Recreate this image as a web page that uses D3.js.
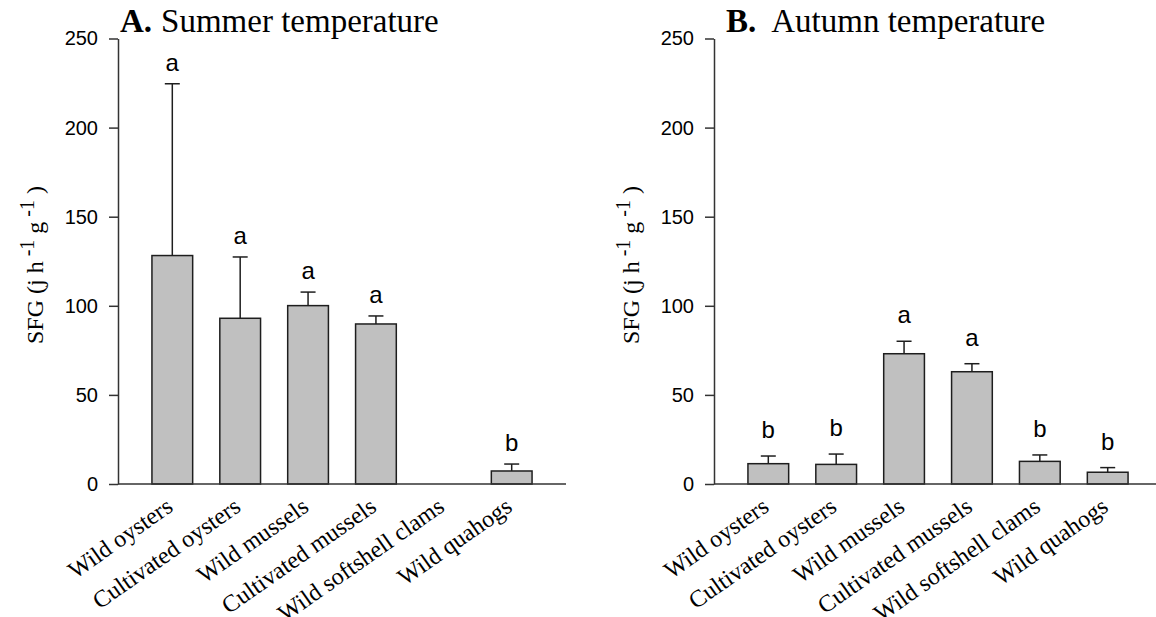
<!DOCTYPE html>
<html>
<head>
<meta charset="utf-8">
<script src="https://cdn.jsdelivr.net/npm/d3@7"></script>
<style>
  body { margin: 0; background: #fff; }
  .tick text { font-family: "Liberation Sans", Arial, sans-serif; font-size: 20px; fill: #000; }
  .cat { font-family: "Liberation Serif", "Times New Roman", serif; font-size: 24px; }
  .ytitle { font-family: "Liberation Serif", "Times New Roman", serif; font-size: 24px; }
  .title { font-family: "Liberation Serif", "Times New Roman", serif; font-size: 33px; }
  .letter { font-family: "Liberation Sans", Arial, sans-serif; font-size: 24px; }
</style>
</head>
<body>
<svg></svg>
<script>
var width = 1156;
var height = 617;

var categories = ["Wild oysters", "Cultivated oysters", "Wild mussels",
                  "Cultivated mussels", "Wild softshell clams", "Wild quahogs"];
var yTicks = [0, 50, 100, 150, 200, 250];

// summer temperature (no softshell clam value)
var summerMean = [128.2, 93.0, 100.1, 89.8, null, 7.3];
var summerSE = [96.4, 34.4, 7.6, 4.5, null, 3.9];
var summerLetters = ["a", "a", "a", "a", "", "b"];

// autumn temperature
var autumnMean = [11.4, 11.0, 73.1, 63.0, 12.7, 6.6];
var autumnSE = [4.3, 5.8, 7.0, 4.5, 3.6, 2.6];
var autumnLetters = ["b", "b", "a", "a", "b", "b"];

var svg = d3.select("svg")
    .attr("width", width)
    .attr("height", height);

var y = d3.scaleLinear()
    .domain([0, 250])
    .range([484, 38.5]);

var x = d3.scaleBand()
    .domain(categories)
    .range([0, 448])
    .paddingInner(0.4)
    .paddingOuter(0.5);

function makePanel(left, label, titleText, titleX, titleGap, letterGap, means, ses, letters) {
  var data = categories.map((c, i) => ({
    cat: c, mean: means[i], se: ses[i], letter: letters[i]
  }));

  var g = svg.append("g")
      .attr("transform", `translate(${left}, 0)`);

  // bars
  g.selectAll(".bar")
    .data(data.filter(d => d.mean != null))
    .enter()
    .append("rect")
      .classed("bar", true)
      .attr("x", d => x(d.cat))
      .attr("width", x.bandwidth())
      .attr("y", d => y(d.mean))
      .attr("height", d => y(0) - y(d.mean))
      .attr("fill", "#c0c0c0")
      .attr("stroke", "#1e1e1e")
      .attr("stroke-width", 1.5);

  // upper error bars
  var err = g.selectAll(".err")
    .data(data.filter(d => d.mean != null))
    .enter()
    .append("g")
      .classed("err", true)
      .attr("transform", d => `translate(${x(d.cat) + x.bandwidth() / 2}, 0)`)
      .attr("stroke", "#1e1e1e")
      .attr("stroke-width", 1.5);

  err.append("line")
      .attr("y1", d => y(d.mean))
      .attr("y2", d => y(d.mean + d.se));

  err.append("line")
      .attr("x1", -7.5)
      .attr("x2", 7.5)
      .attr("y1", d => y(d.mean + d.se))
      .attr("y2", d => y(d.mean + d.se));

  // significance letters
  g.selectAll(".letter")
    .data(data.filter(d => d.letter))
    .enter()
    .append("text")
      .classed("letter", true)
      .attr("x", d => x(d.cat) + x.bandwidth() / 2)
      .attr("y", d => y(d.mean + d.se) - letterGap)
      .attr("text-anchor", "middle")
      .text(d => d.letter);

  // y axis
  var yAxis = g.append("g")
      .call(d3.axisLeft(y).tickValues(yTicks).tickSize(9).tickPadding(11).tickSizeOuter(0));
  yAxis.select(".domain").attr("stroke", "#333").attr("stroke-width", 1.5);
  yAxis.selectAll(".tick line").attr("stroke", "#333").attr("stroke-width", 1.5);

  // x axis line
  g.append("line")
      .attr("x1", 0)
      .attr("x2", x.range()[1])
      .attr("y1", y(0))
      .attr("y2", y(0))
      .attr("stroke", "#333")
      .attr("stroke-width", 1.5);

  // category labels
  g.selectAll(".cat")
    .data(categories)
    .enter()
    .append("text")
      .classed("cat", true)
      .attr("text-anchor", "end")
      .attr("transform", d => `translate(${x(d) + x.bandwidth() / 2 + 2}, ${y(0) + 26}) rotate(-35)`)
      .text(d => d);

  // y axis title
  var yt = g.append("text")
      .classed("ytitle", true)
      .attr("text-anchor", "middle")
      .attr("transform", "translate(-75, 265) rotate(-90)");
  yt.append("tspan").text("SFG (j h");
  yt.append("tspan").attr("dy", -9).attr("font-size", "20px").text(" -1");
  yt.append("tspan").attr("dy", 9).text(" g");
  yt.append("tspan").attr("dy", -9).attr("font-size", "20px").text(" -1");
  yt.append("tspan").attr("dy", 9).text(" )");

  // panel title
  var t = g.append("text")
      .classed("title", true)
      .attr("x", titleX)
      .attr("y", 32);
  t.append("tspan").attr("font-weight", "bold").text(label);
  t.append("tspan").attr("dx", titleGap).text(titleText);
}

makePanel(118, "A.", "Summer temperature", 2, 9, 13, summerMean, summerSE, summerLetters);
makePanel(714, "B.", "Autumn temperature", 12, 15, 18, autumnMean, autumnSE, autumnLetters);
</script>
</body>
</html>
